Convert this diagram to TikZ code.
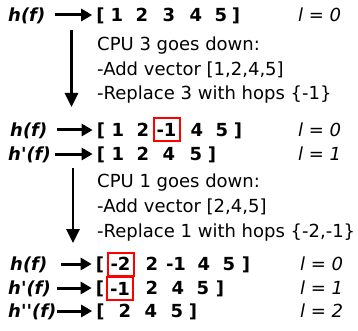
\documentclass[tikz,border=0pt]{standalone}
\usepackage{fontspec}
\setmainfont{DejaVu Sans}
\usetikzlibrary{arrows.meta}
\newcommand{\sq}{\textquotesingle}
\begin{document}
\begin{tikzpicture}[x=1pt,y=-1pt,
  tok/.style={font=\fontsize{18}{20}\selectfont\bfseries, inner sep=0pt, text height=13pt, text depth=0pt, anchor=center},
  lab/.style={font=\fontsize{18}{20}\selectfont\bfseries\itshape, inner sep=0pt, text height=13pt, text depth=0pt, anchor=west},
  lev/.style={font=\fontsize{18}{20}\selectfont\itshape, inner sep=0pt, text height=13pt, text depth=0pt, anchor=west},
  txt/.style={font=\fontsize{18}{20}\selectfont, inner sep=0pt, anchor=base west},
  rbox/.style={tok, draw=red, line width=2pt, minimum width=26pt, minimum height=23pt},
  harrow/.style={line width=3pt, -{Triangle[length=11pt,width=12pt]}},
  varrow/.style={line width=2.6pt, -{Triangle[length=14pt,width=13pt]}}]
\useasboundingbox (0,0) rectangle (358,331);

% Row 1
\node[lab] (l1) at (8,15) {h(f)};
\node[tok] (b1) at (100.5,15) {[};
\node[tok] (r1a) at (117,15) {1};
\node[tok] (r1b) at (142,15) {2};
\node[tok] (r1c) at (169,15) {3};
\node[tok] (r1d) at (196,15) {4};
\node[tok] (r1e) at (221,15) {5};
\node[tok] (e1) at (236,15) {]};
\node[lev] (v1) at (298,15) {l = 0};
\draw[harrow] ([xshift=10pt]l1.east) -- ([xshift=-4pt]b1.west);

% Text block 1
\node[txt] (t1a) at (97,51) {CPU 3 goes down:};
\node[txt] (t1b) at (97,75.5) {-Add vector [1,2,4,5]};
\node[txt] (t1c) at (97,100) {-Replace 3 with hops \{-1\}};
\coordinate (s1) at (71.5,30);
\coordinate (f1) at (71.5,107);
\draw[varrow] (s1) -- (f1);

% Row 2
\node[lab] (l2) at (10,130) {h(f)};
\node[tok] (b2) at (101,130) {[};
\node[tok] (r2a) at (118,130) {1};
\node[tok] (r2b) at (143,130) {2};
\node[rbox] (r2c) at (166.5,130) {-1};
\node[tok] (r2d) at (197,130) {4};
\node[tok] (r2e) at (222,130) {5};
\node[tok] (e2) at (238,130) {]};
\node[lev] (v2) at (298,130) {l = 0};
\draw[harrow] ([xshift=10pt]l2.east) -- ([xshift=-4pt]b2.west);

% Row 3
\node[lab] (l3) at (8,154) {h\sq(f)};
\node[tok] (b3) at (101,154) {[};
\node[tok] (r3a) at (118,154) {1};
\node[tok] (r3b) at (143,154) {2};
\node[tok] (r3c) at (169,154) {4};
\node[tok] (r3d) at (196,154) {5};
\node[tok] (e3) at (212,154) {]};
\node[lev] (v3) at (298,154) {l = 1};
\draw[harrow] ([xshift=4pt]l3.east) -- ([xshift=-4pt]b3.west);

% Text block 2
\node[txt] (t2a) at (97,187.5) {CPU 1 goes down:};
\node[txt] (t2b) at (97,212) {-Add vector [2,4,5]};
\node[txt] (t2c) at (97,237.5) {-Replace 1 with hops \{-2,-1\}};
\coordinate (s2) at (73,168);
\coordinate (f2) at (73,243);
\draw[varrow] (s2) -- (f2);

% Row 4
\node[lab] (l4) at (10,264) {h(f)};
\node[tok] (b4) at (100,264) {[};
\node[rbox] (r4a) at (120.5,264) {-2};
\node[tok] (r4b) at (152,264) {2};
\node[tok] (r4c) at (176,264) {-1};
\node[tok] (r4d) at (204,264) {4};
\node[tok] (r4e) at (229,264) {5};
\node[tok] (e4) at (246,264) {]};
\node[lev] (v4) at (300,264) {l = 0};
\draw[harrow] ([xshift=14pt]l4.east) -- ([xshift=-4pt]b4.west);

% Row 5
\node[lab] (l5) at (8,288) {h\sq(f)};
\node[tok] (b5) at (100,288) {[};
\node[rbox] (r5a) at (120,288.5) {-1};
\node[tok] (r5b) at (152,288) {2};
\node[tok] (r5c) at (178,288) {4};
\node[tok] (r5d) at (203,288) {5};
\node[tok] (e5) at (220,288) {]};
\node[lev] (v5) at (300,288) {l = 1};
\draw[harrow] ([xshift=6pt]l5.east) -- ([xshift=-4pt]b5.west);

% Row 6
\node[lab] (l6) at (8,311) {h\sq\sq(f)};
\node[tok] (b6) at (100.5,311) {[};
\node[tok] (r6a) at (125,311) {2};
\node[tok] (r6b) at (151,311) {4};
\node[tok] (r6c) at (177,311) {5};
\node[tok] (e6) at (193,311) {]};
\node[lev] (v6) at (300,311) {l = 2};
\draw[harrow] ([xshift=0pt]l6.east) -- ([xshift=-4pt]b6.west);
\end{tikzpicture}
\end{document}
